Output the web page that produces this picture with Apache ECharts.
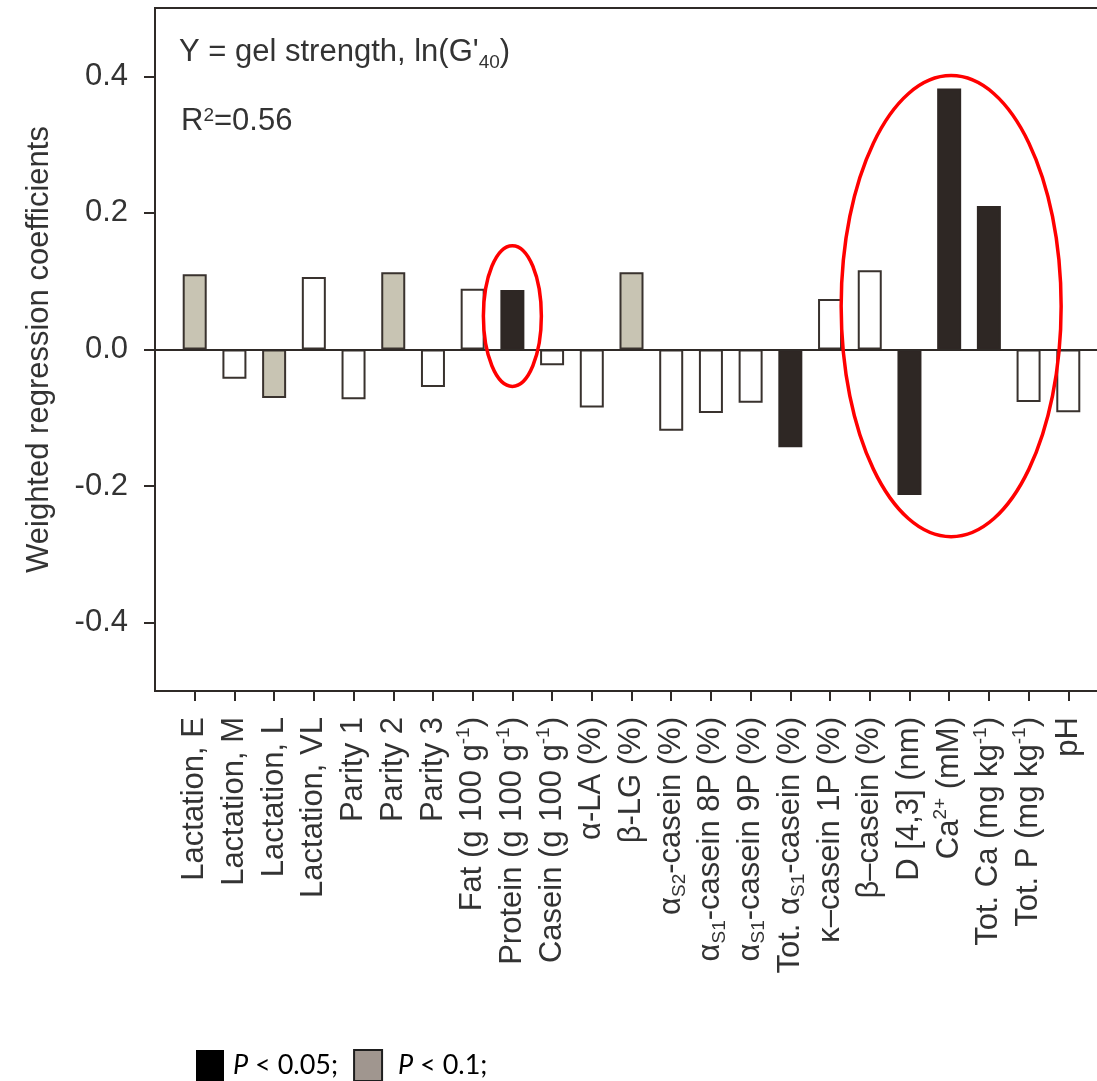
<!DOCTYPE html>
<html><head><meta charset="utf-8">
<script src="https://cdn.jsdelivr.net/npm/echarts@6/dist/echarts.min.js"></script>
<style>html,body{margin:0;padding:0;background:#fff;overflow:hidden}#c{width:1120px;height:1081px}</style>
</head><body><div id="c"></div>
<script>
// ---- data ----
const categories = [
  'Lactation, E', 'Lactation, M', 'Lactation, L', 'Lactation, VL',
  'Parity 1', 'Parity 2', 'Parity 3',
  'Fat (g 100 g{sup|-1})', 'Protein (g 100 g{sup|-1})', 'Casein (g 100 g{sup|-1})',
  'α-LA (%)', 'β-LG (%)',
  'α{sub|S2}-casein (%)', 'α{sub|S1}-casein 8P (%)', 'α{sub|S1}-casein 9P (%)',
  'Tot. α{sub|S1}-casein (%)', 'κ–casein 1P (%)', 'β–casein (%)',
  'D [4,3] (nm)', 'Ca{sup|2+} (mM)', 'Tot. Ca (mg kg{sup|-1})', 'Tot. P (mg kg{sup|-1})', 'pH'
];
const coefficients = [
  0.110, -0.043, -0.071, 0.106,
  -0.073, 0.113, -0.055,
  0.089, 0.087, -0.023,
  -0.085, 0.113,
  -0.119, -0.093, -0.078,
  -0.143, 0.074, 0.116,
  -0.213, 0.382, 0.210, -0.077, -0.092
];
const significance = [
  'p10', 'ns', 'p10', 'ns',
  'ns', 'p10', 'ns',
  'ns', 'p05', 'ns',
  'ns', 'p10',
  'ns', 'ns', 'ns',
  'p05', 'ns', 'ns',
  'p05', 'p05', 'p05', 'ns', 'ns'
];
const yTickValues = [-0.4, -0.2, 0, 0.2, 0.4];
const legendNames = ['P < 0.05;', 'P < 0.1;'];
const titleLine1 = "Y = gel strength, ln(G'{s|40})";
const titleLine2 = 'R{p|2}=0.56';
const yAxisName = 'Weighted regression coefficients';
// highlighted groups (category index centre, half width in categories, value top/bottom)
const rings = [
  { center: 8, halfWidth: 0.73, top: 0.152, bottom: -0.054 },
  { center: 19.05, halfWidth: 2.77, top: 0.401, bottom: -0.274 }
];

// ---- build ----
const FONT = '"Liberation Sans", Arial, Helvetica, sans-serif';
const LFONT = 'Lato, "Open Sans", sans-serif';
const TXT = '#333';
const AX = '#2f2a27';
const axisCats = [''].concat(categories, ['']);
function pick(level) {
  return ['-'].concat(coefficients.map((v, i) => significance[i] === level ? v : '-'), ['-']);
}
const barBase = { type: 'bar', barWidth: 24, barGap: '-100%' };

const chart = echarts.init(document.getElementById('c'), null, { renderer: 'canvas' });
chart.setOption({
  animation: false,
  backgroundColor: '#fff',
  textStyle: { fontFamily: FONT },
  title: [
    { text: titleLine1, left: 179, top: 32, padding: 0,
      textStyle: { fontFamily: FONT, fontSize: 31, fontWeight: 'normal', color: TXT, lineHeight: 40,
        rich: { s: { fontFamily: FONT, fontSize: 19, color: TXT, verticalAlign: 'bottom', lineHeight: 40 } } } },
    { text: titleLine2, left: 181, top: 106, padding: 0,
      textStyle: { fontFamily: FONT, fontSize: 31, fontWeight: 'normal', color: TXT, lineHeight: 30,
        rich: { p: { fontFamily: FONT, fontSize: 19, color: TXT, verticalAlign: 'top', lineHeight: 30 } } } }
  ],
  legend: {
    left: 196, top: 1049, padding: 0, itemWidth: 28, itemHeight: 31, itemGap: 15,
    icon: 'rect', selectedMode: false,
    data: [
      { name: legendNames[0], itemStyle: { color: '#000', borderWidth: 0 } },
      { name: legendNames[1], itemStyle: { color: '#a0968f', borderColor: '#1e1e1e', borderWidth: 2 } }
    ],
    formatter: n => (n === legendNames[1] ? ' ' : '') + '{i|P}' + n.slice(1),
    textStyle: { fontFamily: LFONT, fontSize: 27, color: '#000', padding: [0, 0, 0, 4],
      rich: { i: { fontFamily: LFONT, fontSize: 27, fontStyle: 'italic', color: '#000' } } }
  },
  grid: { left: 155, top: 8, bottom: 390, right: 12, show: true, borderColor: AX, borderWidth: 2, containLabel: false },
  xAxis: {
    type: 'category', data: axisCats, boundaryGap: false,
    axisLine: { onZero: false, lineStyle: { color: AX, width: 2 } },
    axisTick: { length: 10, lineStyle: { color: AX, width: 2 }, interval: (i) => i > 0 && i < axisCats.length - 1 },
    axisLabel: { interval: 0, rotate: 90, margin: 26, fontFamily: FONT, fontSize: 31, color: TXT, lineHeight: 36,
      rich: {
        sup: { fontFamily: FONT, fontSize: 19, color: TXT, verticalAlign: 'top', lineHeight: 36 },
        sub: { fontFamily: FONT, fontSize: 19, color: TXT, verticalAlign: 'bottom', lineHeight: 36 }
      } },
    splitLine: { show: false }
  },
  yAxis: {
    type: 'value', min: -0.5, max: 0.5, interval: 0.1,
    name: yAxisName, nameLocation: 'middle', nameGap: 100,
    nameTextStyle: { fontFamily: FONT, fontSize: 31, color: TXT },
    axisLine: { show: true, lineStyle: { color: AX, width: 2 } },
    axisTick: { show: true, length: 11, customValues: yTickValues, lineStyle: { color: AX, width: 2 } },
    axisLabel: { customValues: yTickValues, margin: 27, fontFamily: FONT, fontSize: 31, color: TXT,
      formatter: v => v.toFixed(1) },
    splitLine: { show: false }
  },
  series: [
    Object.assign({}, barBase, { name: legendNames[0], data: pick('p05'),
      itemStyle: { color: '#2e2724', borderColor: '#2e2724', borderWidth: 2 } }),
    Object.assign({}, barBase, { name: legendNames[1], data: pick('p10'),
      itemStyle: { color: '#c8c4b3', borderColor: '#39322e', borderWidth: 2 } }),
    Object.assign({}, barBase, { name: 'not significant', data: pick('ns'),
      itemStyle: { color: '#fff', borderColor: '#39322e', borderWidth: 2 },
      markLine: { silent: true, symbol: ['none', 'none'], label: { show: false },
        lineStyle: { color: AX, width: 2, type: 'solid' }, data: [{ yAxis: 0 }] } })
  ]
});

// annotation ellipses placed in data coordinates
function toPx(idx, val) {
  const i0 = Math.floor(idx);
  const a = chart.convertToPixel({ xAxisIndex: 0, yAxisIndex: 0 }, [i0 + 1, val]);
  const b = chart.convertToPixel({ xAxisIndex: 0, yAxisIndex: 0 }, [i0 + 2, val]);
  const step = b[0] - a[0];
  return [a[0] + (idx - i0) * step, a[1], step];
}
const graphics = rings.map(r => {
  const t = toPx(r.center, r.top), btm = toPx(r.center, r.bottom);
  return {
    type: 'ellipse', z: 100, silent: true,
    shape: { cx: t[0], cy: (t[1] + btm[1]) / 2, rx: r.halfWidth * t[2], ry: (btm[1] - t[1]) / 2 },
    style: { fill: 'none', stroke: '#ff0000', lineWidth: 3.5 }
  };
});
chart.setOption({ graphic: graphics });
</script>
</body></html>
